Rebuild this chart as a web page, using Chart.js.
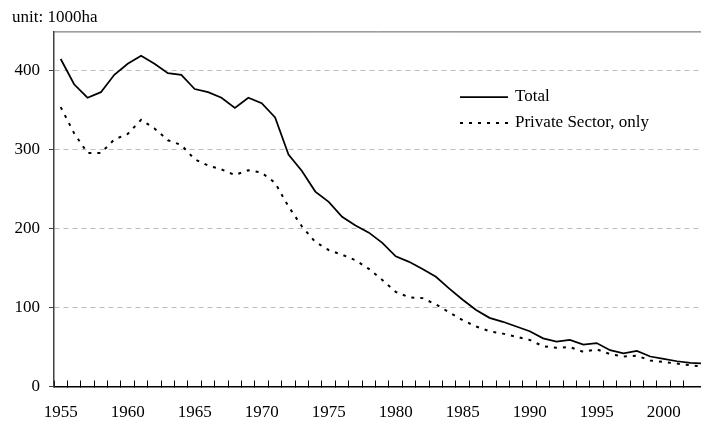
<!DOCTYPE html>
<html>
<head>
<meta charset="utf-8">
<script src="https://cdn.jsdelivr.net/npm/chart.js@4/dist/chart.umd.min.js"></script>
<style>
  html, body { margin: 0; padding: 0; background: #fff; overflow: hidden; }
  #wrap { position: relative; width: 701px; height: 423px; }
</style>
</head>
<body>
<div id="wrap"><canvas id="c"></canvas></div>
<script>
// ---- data ----
const years = [
  1955,1956,1957,1958,1959,1960,1961,1962,1963,1964,
  1965,1966,1967,1968,1969,1970,1971,1972,1973,1974,
  1975,1976,1977,1978,1979,1980,1981,1982,1983,1984,
  1985,1986,1987,1988,1989,1990,1991,1992,1993,1994,
  1995,1996,1997,1998,1999,2000,2001,2002,2003
];
const totalValues = [
  415,383,366,373,395,409,419,409,397,395,
  377,373,366,353,366,359,341,294,273,247,
  234,215,204,195,182,165,158,149,139,124,
  110,97,87,82,76,70,61,57,59,53,
  55,46,42,45,38,35,32,30,29
];
const privateValues = [
  354,321,296,296,313,320,338,327,312,306,
  288,280,275,268,274,271,258,228,203,183,
  173,167,160,149,135,120,113,112,104,94,
  84,76,70,67,63,59,51,49,50,44,
  47,41,38,39,33,31,29,27,25
];
const seriesLabels = ['Total', 'Private Sector, only'];
const xTickLabels = [1955,1960,1965,1970,1975,1980,1985,1990,1995,2000];
const yTickLabels = [0,100,200,300,400];
const unitLabel = 'unit: 1000ha';

Chart.defaults.font.family = "'Liberation Serif', 'Times New Roman', serif";
Chart.defaults.font.size = 17;
Chart.defaults.color = '#000';

const X_MIN = 1954.5;
const X_MAX = 1954.5 + (701 - 54) / 13.4;

const decor = {
  id: 'decor',
  afterDraw(chart) {
    const { ctx, chartArea } = chart;
    ctx.save();
    // top frame line
    ctx.strokeStyle = '#606060';
    ctx.lineWidth = 1;
    ctx.beginPath();
    ctx.moveTo(chartArea.left, chartArea.top + 0.5);
    ctx.lineTo(chartArea.right, chartArea.top + 0.5);
    ctx.stroke();
    // legend
    const rows = [97, 123];
    chart.data.datasets.forEach((ds, i) => {
      const y = rows[i];
      ctx.strokeStyle = ds.borderColor;
      ctx.lineWidth = ds.borderWidth;
      ctx.setLineDash(ds.borderDash || []);
      ctx.beginPath();
      ctx.moveTo(460, y);
      ctx.lineTo(508, y);
      ctx.stroke();
      ctx.setLineDash([]);
      ctx.fillStyle = '#000';
      ctx.font = "17px 'Liberation Serif', 'Times New Roman', serif";
      ctx.textAlign = 'left';
      ctx.textBaseline = 'middle';
      ctx.fillText(ds.label, 515, y);
    });
    ctx.restore();
  }
};

new Chart(document.getElementById('c'), {
  type: 'line',
  data: {
    datasets: [
      {
        label: seriesLabels[0],
        data: years.map((y, i) => ({ x: y, y: totalValues[i] })),
        borderColor: '#000',
        borderWidth: 1.75,
        pointRadius: 0,
        tension: 0,
        fill: false
      },
      {
        label: seriesLabels[1],
        data: years.map((y, i) => ({ x: y, y: privateValues[i] })),
        borderColor: '#000',
        borderWidth: 2,
        borderDash: [3, 6],
        pointRadius: 0,
        tension: 0,
        fill: false
      }
    ]
  },
  options: {
    responsive: true,
    maintainAspectRatio: false,
    animation: false,
    layout: { padding: { left: 12, right: 0, top: 0, bottom: 0 } },
    plugins: {
      legend: { display: false },
      tooltip: { enabled: false },
      title: {
        display: true,
        text: unitLabel,
        align: 'start',
        color: '#000',
        font: { size: 17, weight: 'normal' },
        padding: { top: 7, bottom: 4 }
      }
    },
    scales: {
      x: {
        type: 'linear',
        position: 'bottom',
        weight: 0,
        min: X_MIN,
        max: X_MAX,
        afterBuildTicks: (s) => {
          s.ticks = years.slice(0, years.length - 1).map(y => ({ value: y - 0.5 }));
        },
        afterFit: (s) => { s.height = 0; },
        ticks: { display: false },
        grid: {
          drawOnChartArea: false,
          drawTicks: true,
          tickLength: -6,
          tickColor: '#000',
          tickWidth: 1
        },
        border: { display: true, color: '#000', width: 1.5 }
      },
      xl: {
        type: 'linear',
        position: 'bottom',
        weight: 1,
        min: X_MIN,
        max: X_MAX,
        afterBuildTicks: (s) => {
          s.ticks = xTickLabels.map(v => ({ value: v }));
        },
        afterFit: (s) => { s.height = 36.5; },
        ticks: {
          autoSkip: false,
          maxRotation: 0,
          padding: 16,
          color: '#000',
          callback: (v) => String(v)
        },
        grid: { display: false, drawTicks: false },
        border: { display: false }
      },
      y: {
        type: 'linear',
        min: 0,
        max: 450,
        afterBuildTicks: (s) => {
          s.ticks = yTickLabels.map(v => ({ value: v }));
        },
        afterFit: (s) => { s.width = 42; },
        ticks: {
          padding: 9,
          color: '#000',
          callback: (v) => String(v)
        },
        grid: {
          color: (c) => (c.tick && c.tick.value === 0) ? 'rgba(0,0,0,0)' : '#bdbdbd',
          lineWidth: 1,
          drawTicks: true,
          tickLength: 5,
          tickColor: '#404040',
          tickWidth: 1
        },
        border: { display: true, color: '#404040', width: 1.5, dash: [5, 4] }
      }
    }
  },
  plugins: [decor]
});
</script>
</body>
</html>
